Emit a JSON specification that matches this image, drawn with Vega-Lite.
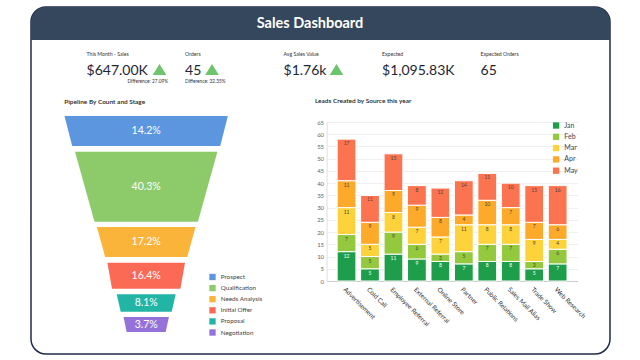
{
  "$schema": "https://vega.github.io/schema/vega-lite/v6.json",
  "background": "white",
  "padding": {"left": 30, "top": 6, "right": 0, "bottom": 0},
  "config": {"font": "Lato", "view": {"stroke": null}},
  "bounds": "flush",
  "spacing": 0,
  "vconcat": [
    {
      "width": 579, "height": 33,
      "data": {"values": [{"title": "Sales Dashboard"}]},
      "layer": [
        {"mark": {"type": "rect", "fill": "white", "stroke": "#1F2B4B", "strokeWidth": 1.5, "cornerRadius": 15, "y2Offset": 314}, "encoding": {"y2": {"value": "height"}}},
        {"mark": {"type": "rect", "fill": "#34475C", "cornerRadiusTopLeft": 15, "cornerRadiusTopRight": 15}, "encoding": {}},
        {"mark": {"type": "text", "color": "white", "fontSize": 14.5, "fontWeight": "bold", "dx": -10.5, "baseline": "middle"}, "encoding": {"text": {"field": "title"}}}
      ]
    },
    {
      "width": 579, "height": 82,
      "data": {"values": [
        {"kpi": "This Month - Sales", "value": "$647.00K", "trend": "up", "difference": "Difference: 27.09%"},
        {"kpi": "Orders", "value": "45", "trend": "up", "difference": "Difference: 32.35%"},
        {"kpi": "Avg Sales Value", "value": "$1.76k", "trend": "up"},
        {"kpi": "Expected", "value": "$1,095.83K"},
        {"kpi": "Expected Orders", "value": "65"}
      ]},
      "encoding": {
        "x": {"field": "kpi", "type": "nominal", "sort": null, "bandPosition": 0, "scale": {"type": "band", "paddingInner": 0, "paddingOuter": 0.439, "align": 0.642}, "axis": null}
      },
      "layer": [
        {"mark": {"type": "text", "align": "left", "baseline": "middle", "fontSize": 5.2, "color": "#333", "dy": -27.3}, "encoding": {"text": {"field": "kpi"}}},
        {"mark": {"type": "text", "align": "left", "baseline": "alphabetic", "fontSize": 14, "color": "#1E2636", "dy": -6}, "encoding": {"text": {"field": "value"}}},
        {
          "transform": [{"filter": "datum.kpi === 'This Month - Sales'"}],
          "mark": {"type": "point", "shape": "M-1,0.8L1,0.8L0,-0.8Z", "size": 188, "filled": true, "color": "#6CC46B", "opacity": 1, "strokeWidth": 0, "xOffset": 73, "yOffset": -11.5},
          "encoding": {}
        },
        {
          "transform": [{"filter": "datum.kpi === 'Orders'"}],
          "mark": {"type": "point", "shape": "M-1,0.8L1,0.8L0,-0.8Z", "size": 188, "filled": true, "color": "#6CC46B", "opacity": 1, "strokeWidth": 0, "xOffset": 27, "yOffset": -11.5},
          "encoding": {}
        },
        {
          "transform": [{"filter": "datum.kpi === 'Avg Sales Value'"}],
          "mark": {"type": "point", "shape": "M-1,0.8L1,0.8L0,-0.8Z", "size": 188, "filled": true, "color": "#6CC46B", "opacity": 1, "strokeWidth": 0, "xOffset": 53, "yOffset": -11.5},
          "encoding": {}
        },
        {
          "transform": [{"filter": "datum.kpi === 'This Month - Sales'"}],
          "mark": {"type": "text", "align": "left", "baseline": "middle", "fontSize": 4.8, "color": "#333", "dx": 41, "dy": 1},
          "encoding": {"text": {"field": "difference"}}
        },
        {
          "transform": [{"filter": "datum.kpi === 'Orders'"}],
          "mark": {"type": "text", "align": "left", "baseline": "middle", "fontSize": 4.8, "color": "#333", "dx": 0, "dy": 1},
          "encoding": {"text": {"field": "difference"}}
        }
      ]
    },
    {
      "bounds": "flush",
      "spacing": 64.6,
      "resolve": {"scale": {"color": "independent"}, "legend": {"color": "independent"}},
      "hconcat": [
        {
          "width": 230.4, "height": 214,
          "title": {"text": "Pipeline By Count and Stage", "anchor": "start", "frame": "group", "dx": 33.3, "offset": 11, "fontSize": 6.5, "fontWeight": 600, "color": "#222"},
          "data": {"values": [
            {"stage": "Prospect", "pct": "14.2%", "pos": 0, "left": -81.7, "right": 81.7},
            {"stage": "Prospect", "pct": "14.2%", "pos": 30, "left": -74, "right": 74},
            {"stage": "Qualification", "pct": "40.3%", "pos": 35.7, "left": -71.2, "right": 71.2},
            {"stage": "Qualification", "pct": "40.3%", "pos": 105.7, "left": -51.7, "right": 51.7},
            {"stage": "Needs Analysis", "pct": "17.2%", "pos": 111, "left": -49.3, "right": 49.3},
            {"stage": "Needs Analysis", "pct": "17.2%", "pos": 141, "left": -41, "right": 41},
            {"stage": "Initial Offer", "pct": "16.4%", "pos": 146.7, "left": -38.8, "right": 38.8},
            {"stage": "Initial Offer", "pct": "16.4%", "pos": 172.7, "left": -34.2, "right": 34.2},
            {"stage": "Proposal", "pct": "8.1%", "pos": 178.3, "left": -29.5, "right": 29.5},
            {"stage": "Proposal", "pct": "8.1%", "pos": 195.7, "left": -25.5, "right": 25.5},
            {"stage": "Negotiation", "pct": "3.7%", "pos": 201, "left": -22.7, "right": 22.7},
            {"stage": "Negotiation", "pct": "3.7%", "pos": 216, "left": -19.5, "right": 19.5}
          ]},
          "layer": [
            {
              "mark": {"type": "area", "orient": "horizontal", "opacity": 1},
              "encoding": {
                "y": {"field": "pos", "type": "quantitative", "scale": {"domain": [6, 220], "reverse": true, "nice": false, "zero": false}, "axis": null},
                "x": {"field": "left", "type": "quantitative", "stack": null, "scale": {"domain": [-115.2, 115.2], "nice": false, "zero": false}, "axis": null},
                "x2": {"field": "right"},
                "color": {
                  "field": "stage", "type": "nominal",
                  "scale": {"domain": ["Prospect", "Qualification", "Needs Analysis", "Initial Offer", "Proposal", "Negotiation"], "range": ["#5B96DF", "#8DCB6A", "#FBB43A", "#FB6A55", "#22B5A6", "#9572DA"]},
                  "legend": {"title": null, "orient": "none", "legendX": 178, "legendY": 151.5, "symbolType": "square", "symbolSize": 40, "symbolStrokeWidth": 0, "labelFontSize": 6.3, "labelColor": "#444", "rowPadding": 4.1, "padding": 0, "labelOffset": 4.7}
                }
              }
            },
            {
              "transform": [{"aggregate": [{"op": "mean", "field": "pos", "as": "mid"}], "groupby": ["stage", "pct"]}],
              "mark": {"type": "text", "color": "white", "fontSize": 10.5, "baseline": "middle"},
              "encoding": {
                "y": {"field": "mid", "type": "quantitative", "axis": null},
                "x": {"datum": 0, "type": "quantitative", "axis": null},
                "text": {"field": "pct"}
              }
            }
          ]
        },
        {
          "width": 251, "height": 159,
          "title": {"text": "Leads Created by Source this year", "anchor": "start", "frame": "group", "dx": -11.7, "offset": 14.3, "fontSize": 6.5, "fontWeight": 600, "color": "#222"},
          "data": {"values": [
            {"source": "Advertisement", "month": "Jan", "m": 1, "leads": 12},
            {"source": "Advertisement", "month": "Feb", "m": 2, "leads": 7},
            {"source": "Advertisement", "month": "Mar", "m": 3, "leads": 11},
            {"source": "Advertisement", "month": "Apr", "m": 4, "leads": 11},
            {"source": "Advertisement", "month": "May", "m": 5, "leads": 17},
            {"source": "Cold Call", "month": "Jan", "m": 1, "leads": 5},
            {"source": "Cold Call", "month": "Feb", "m": 2, "leads": 5},
            {"source": "Cold Call", "month": "Mar", "m": 3, "leads": 5},
            {"source": "Cold Call", "month": "Apr", "m": 4, "leads": 9},
            {"source": "Cold Call", "month": "May", "m": 5, "leads": 11},
            {"source": "Employee Referral", "month": "Jan", "m": 1, "leads": 11},
            {"source": "Employee Referral", "month": "Feb", "m": 2, "leads": 9},
            {"source": "Employee Referral", "month": "Mar", "m": 3, "leads": 8},
            {"source": "Employee Referral", "month": "Apr", "m": 4, "leads": 9},
            {"source": "Employee Referral", "month": "May", "m": 5, "leads": 15},
            {"source": "External Referral", "month": "Jan", "m": 1, "leads": 9},
            {"source": "External Referral", "month": "Feb", "m": 2, "leads": 6},
            {"source": "External Referral", "month": "Mar", "m": 3, "leads": 7},
            {"source": "External Referral", "month": "Apr", "m": 4, "leads": 9},
            {"source": "External Referral", "month": "May", "m": 5, "leads": 8},
            {"source": "Online Store", "month": "Jan", "m": 1, "leads": 8},
            {"source": "Online Store", "month": "Feb", "m": 2, "leads": 3},
            {"source": "Online Store", "month": "Mar", "m": 3, "leads": 7},
            {"source": "Online Store", "month": "Apr", "m": 4, "leads": 8},
            {"source": "Online Store", "month": "May", "m": 5, "leads": 12},
            {"source": "Partner", "month": "Jan", "m": 1, "leads": 7},
            {"source": "Partner", "month": "Feb", "m": 2, "leads": 5},
            {"source": "Partner", "month": "Mar", "m": 3, "leads": 11},
            {"source": "Partner", "month": "Apr", "m": 4, "leads": 4},
            {"source": "Partner", "month": "May", "m": 5, "leads": 14},
            {"source": "Public Relations", "month": "Jan", "m": 1, "leads": 8},
            {"source": "Public Relations", "month": "Feb", "m": 2, "leads": 7},
            {"source": "Public Relations", "month": "Mar", "m": 3, "leads": 8},
            {"source": "Public Relations", "month": "Apr", "m": 4, "leads": 10},
            {"source": "Public Relations", "month": "May", "m": 5, "leads": 11},
            {"source": "Sales Mail Alias", "month": "Jan", "m": 1, "leads": 8},
            {"source": "Sales Mail Alias", "month": "Feb", "m": 2, "leads": 7},
            {"source": "Sales Mail Alias", "month": "Mar", "m": 3, "leads": 8},
            {"source": "Sales Mail Alias", "month": "Apr", "m": 4, "leads": 7},
            {"source": "Sales Mail Alias", "month": "May", "m": 5, "leads": 10},
            {"source": "Trade Show", "month": "Jan", "m": 1, "leads": 5},
            {"source": "Trade Show", "month": "Feb", "m": 2, "leads": 3},
            {"source": "Trade Show", "month": "Mar", "m": 3, "leads": 9},
            {"source": "Trade Show", "month": "Apr", "m": 4, "leads": 7},
            {"source": "Trade Show", "month": "May", "m": 5, "leads": 15},
            {"source": "Web Research", "month": "Jan", "m": 1, "leads": 7},
            {"source": "Web Research", "month": "Feb", "m": 2, "leads": 6},
            {"source": "Web Research", "month": "Mar", "m": 3, "leads": 4},
            {"source": "Web Research", "month": "Apr", "m": 4, "leads": 6},
            {"source": "Web Research", "month": "May", "m": 5, "leads": 16}
          ]},
          "encoding": {
            "x": {"field": "source", "type": "nominal", "sort": null, "scale": {"paddingInner": 0.2, "paddingOuter": 0.45},
                  "axis": {"title": null, "labelAngle": 45, "labelFontSize": 6.5, "labelColor": "#333", "ticks": false, "domainColor": "#cccccc", "labelPadding": 5}},
            "y": {"field": "leads", "type": "quantitative", "stack": "zero", "scale": {"domain": [0, 65], "nice": false},
                  "axis": {"title": null, "values": [0, 5, 10, 15, 20, 25, 30, 35, 40, 45, 50, 55, 60, 65], "labelFontSize": 6, "labelColor": "#666", "ticks": false, "domainColor": "#e0e0e0", "gridColor": "#efefef", "labelPadding": 3}},
            "order": {"field": "m", "type": "quantitative"}
          },
          "layer": [
            {
              "mark": {"type": "bar", "stroke": "white", "strokeWidth": 1},
              "encoding": {
                "color": {
                  "field": "month", "type": "nominal",
                  "scale": {"domain": ["Jan", "Feb", "Mar", "Apr", "May"], "range": ["#1E9E4A", "#94C83D", "#FDD23A", "#FDAA2A", "#FC7350"]},
                  "legend": {"title": null, "orient": "none", "legendX": 226, "legendY": 0, "symbolType": "square", "symbolSize": 40, "symbolStrokeWidth": 0, "labelFontSize": 7, "labelColor": "#444", "rowPadding": 3.3, "padding": 0, "labelOffset": 4.7}
                }
              }
            },
            {
              "mark": {"type": "text", "baseline": "top", "dy": 2, "fontSize": 5},
              "encoding": {
                "detail": {"field": "month"},
                "text": {"field": "leads", "type": "quantitative"},
                "color": {"condition": {"test": "datum.month === 'Jan'", "value": "white"}, "value": "#444"}
              }
            }
          ]
        }
      ]
    }
  ]
}
